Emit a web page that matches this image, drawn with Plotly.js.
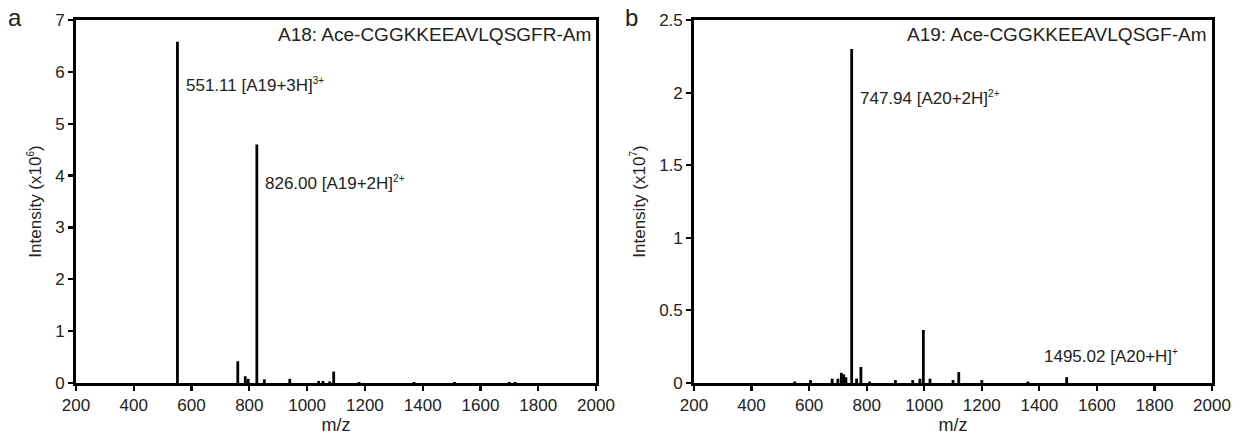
<!DOCTYPE html>
<html><head><meta charset="utf-8">
<script src="https://cdn.plot.ly/plotly-3.0.1.min.js"></script>
<style>html,body{margin:0;padding:0;background:#fff}#chart{width:1246px;height:440px}</style>
</head><body><div id="chart"></div>
<script>
// Panel a: A18 spectrum (intensity x10^6)
const mzA = [551.11, 760, 786, 796, 826.00, 852, 940, 1040, 1055, 1078, 1092, 1180, 1370, 1510, 1700, 1720];
const intA = [6.58, 0.42, 0.13, 0.08, 4.6, 0.07, 0.08, 0.04, 0.04, 0.03, 0.22, 0.02, 0.02, 0.02, 0.02, 0.02];
// Panel b: A19 spectrum (intensity x10^7)
const mzB = [550, 605, 680, 700, 712, 720, 728, 747.94, 765, 780, 810, 900, 960, 985, 997, 1020, 1100, 1120, 1200, 1360, 1495.02];
const intB = [0.01, 0.02, 0.03, 0.03, 0.07, 0.06, 0.04, 2.30, 0.03, 0.11, 0.01, 0.02, 0.02, 0.03, 0.365, 0.03, 0.02, 0.075, 0.02, 0.01, 0.04];
const xTicks = [200, 400, 600, 800, 1000, 1200, 1400, 1600, 1800, 2000];
const yTicksA = [0, 1, 2, 3, 4, 5, 6, 7];
const yTicksB = [0, 0.5, 1, 1.5, 2, 2.5];

function sticks(mz, it) {
  const x = [], y = [];
  mz.forEach((m, i) => { x.push(m, m, null); y.push(0, it[i], null); });
  return {x, y};
}
const sA = sticks(mzA, intA), sB = sticks(mzB, intB);
const FONT = 'Liberation Sans, Arial, sans-serif';
const C = '#222';
const sup = s => '<sup><span style="font-size:10px">' + s + '</span></sup>';
const traces = [
  {x: sA.x, y: sA.y, mode: 'lines', line: {color: '#000', width: 2.8}, xaxis: 'x', yaxis: 'y', hoverinfo: 'skip'},
  {x: sB.x, y: sB.y, mode: 'lines', line: {color: '#000', width: 2.8}, xaxis: 'x2', yaxis: 'y2', hoverinfo: 'skip'}
];
const axBase = {showline: true, linecolor: '#000', linewidth: 2.8, mirror: true, ticks: 'outside', ticklen: 5, tickwidth: 2.2,
  tickcolor: '#000', showgrid: false, zeroline: false, tickfont: {family: FONT, size: 17, color: C}};
const yDom = [1 - 383/440, 1 - 20/440];
const xTitle = {text: 'm/z', font: {family: FONT, size: 18, color: C}, standoff: 4};
const layout = {
  width: 1246, height: 440, margin: {l: 0, r: 0, t: 0, b: 0}, paper_bgcolor: '#fff', plot_bgcolor: '#fff',
  showlegend: false, font: {family: FONT, color: C},
  xaxis: Object.assign({}, axBase, {domain: [76/1246, 596/1246], range: [200, 2000], tickvals: xTicks, anchor: 'y', title: xTitle}),
  yaxis: Object.assign({}, axBase, {domain: yDom, range: [0, 7], tickvals: yTicksA, anchor: 'x',
    title: {text: 'Intensity (x10' + sup('6') + ')', font: {family: FONT, size: 17, color: C}, standoff: 10}}),
  xaxis2: Object.assign({}, axBase, {domain: [694/1246, 1212/1246], range: [200, 2000], tickvals: xTicks, anchor: 'y2', title: xTitle}),
  yaxis2: Object.assign({}, axBase, {domain: yDom, range: [0, 2.5], tickvals: yTicksB, ticktext: ['0','0.5','1','1.5','2','2.5'], anchor: 'x2',
    title: {text: 'Intensity (x10' + sup('7') + ')', font: {family: FONT, size: 17, color: C}, standoff: 10}}),
  annotations: [
    {xref: 'paper', yref: 'paper', x: 6/1246, y: 1 - 18/440, text: 'a', showarrow: false, xanchor: 'left', yanchor: 'middle', font: {size: 24, color: C}},
    {xref: 'paper', yref: 'paper', x: 623/1246, y: 1 - 18/440, text: 'b', showarrow: false, xanchor: 'left', yanchor: 'middle', font: {size: 24, color: C}},
    {xref: 'x domain', yref: 'y domain', x: 0.995, y: 0.995, text: 'A18: Ace-CGGKKEEAVLQSGFR-Am', showarrow: false, xanchor: 'right', yanchor: 'top', font: {size: 19, color: C}},
    {xref: 'x2 domain', yref: 'y2 domain', x: 0.995, y: 0.995, text: 'A19: Ace-CGGKKEEAVLQSGF-Am', showarrow: false, xanchor: 'right', yanchor: 'top', font: {size: 19, color: C}},
    {xref: 'x', yref: 'y', x: mzA[0] + 22, y: 5.75, text: '551.11 [A19+3H]' + sup('3+'), showarrow: false, xanchor: 'left', yanchor: 'middle', font: {size: 17, color: C}},
    {xref: 'x', yref: 'y', x: mzA[4] + 22, y: 3.85, text: '826.00 [A19+2H]' + sup('2+'), showarrow: false, xanchor: 'left', yanchor: 'middle', font: {size: 17, color: C}},
    {xref: 'x2', yref: 'y2', x: mzB[7] + 22, y: 1.96, text: '747.94 [A20+2H]' + sup('2+'), showarrow: false, xanchor: 'left', yanchor: 'middle', font: {size: 17, color: C}},
    {xref: 'x2', yref: 'y2', x: mzB[mzB.length - 1] - 85, y: 0.185, text: '1495.02 [A20+H]' + sup('+'), showarrow: false, xanchor: 'left', yanchor: 'middle', font: {size: 17, color: C}}
  ]
};
Plotly.newPlot('chart', traces, layout, {displayModeBar: false, staticPlot: true});
</script></body></html>
